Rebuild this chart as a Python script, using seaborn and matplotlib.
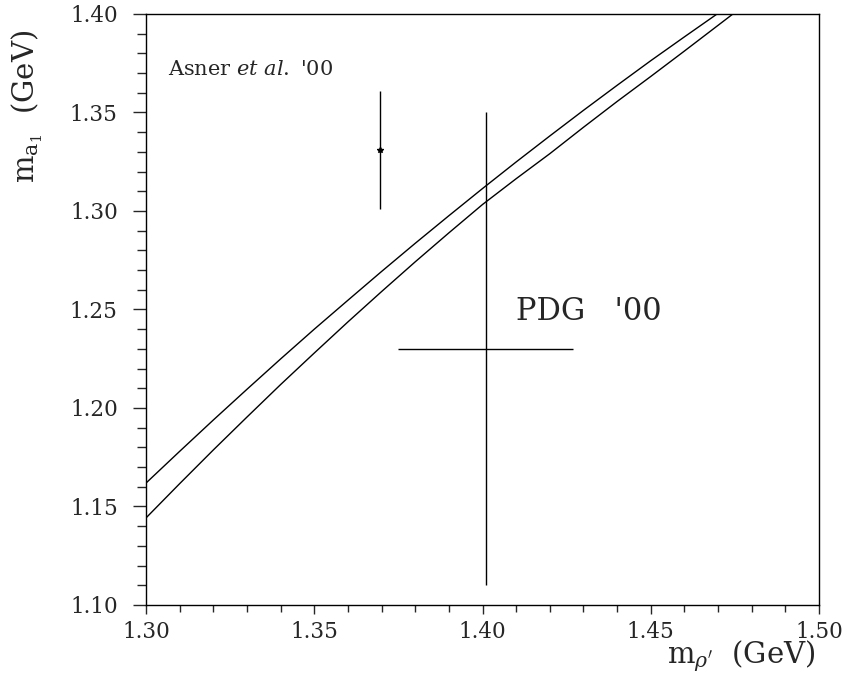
import numpy as np
import pandas as pd
import seaborn as sns
import matplotlib.pyplot as plt
from matplotlib.ticker import MultipleLocator

# band edges
upper_x = [1.30, 1.31, 1.32, 1.33, 1.34, 1.35, 1.36, 1.37, 1.38, 1.39,
           1.40, 1.41, 1.42, 1.43, 1.44, 1.45, 1.46, 1.4697]
upper_y = [1.1619, 1.1780, 1.1939, 1.2095, 1.2249, 1.2400, 1.2547, 1.2693, 1.2836, 1.2976,
           1.3114, 1.3249, 1.3381, 1.3511, 1.3638, 1.3763, 1.3884, 1.4000]
lower_x = [1.30, 1.31, 1.32, 1.33, 1.34, 1.35, 1.36, 1.37, 1.38, 1.39,
           1.40, 1.41, 1.42, 1.43, 1.44, 1.45, 1.46, 1.4744]
lower_y = [1.1442, 1.1616, 1.1787, 1.1954, 1.2119, 1.2279, 1.2437, 1.2591, 1.2742, 1.2889,
           1.3033, 1.3164, 1.3291, 1.3425, 1.3556, 1.3683, 1.3812, 1.4000]

# measurements
asner_x, asner_y, asner_yerr = 1.3695, 1.331, 0.030
pdg_x, pdg_y, pdg_xerr, pdg_yerr = 1.401, 1.230, 0.026, 0.120

sns.set_style('ticks')
plt.rcParams['font.family'] = ['DejaVu Serif', 'DejaVu Sans']
plt.rcParams['mathtext.fontset'] = 'dejavuserif'

fig = plt.figure(figsize=(8.47, 6.79), dpi=100)
ax = fig.add_axes([0.1724, 0.1090, 0.7946, 0.8704])

band = pd.concat([
    pd.DataFrame({'x': upper_x, 'y': upper_y, 'edge': 'upper'}),
    pd.DataFrame({'x': lower_x, 'y': lower_y, 'edge': 'lower'}),
])
sns.lineplot(data=band, x='x', y='y', units='edge', estimator=None, sort=False,
             color='black', lw=1.0, ax=ax, legend=False)

ax.errorbar(asner_x, asner_y, yerr=asner_yerr, fmt='*', color='black',
            ms=4, elinewidth=1.0, capsize=0)
ax.errorbar(pdg_x, pdg_y, xerr=pdg_xerr, yerr=pdg_yerr, fmt='none',
            ecolor='black', elinewidth=1.0, capsize=0)

ax.text(1.3065, 1.3716, "Asner $et$ $al.$ '00", fontsize=15, va='center', ha='left')
ax.text(1.410, 1.2492, "PDG   '00", fontsize=22, va='center', ha='left')

ax.set_xlim(1.30, 1.50)
ax.set_ylim(1.10, 1.40)
ax.xaxis.set_major_locator(MultipleLocator(0.05))
ax.xaxis.set_minor_locator(MultipleLocator(0.01))
ax.yaxis.set_major_locator(MultipleLocator(0.05))
ax.yaxis.set_minor_locator(MultipleLocator(0.01))
ax.xaxis.set_major_formatter(plt.FormatStrFormatter('%.2f'))
ax.yaxis.set_major_formatter(plt.FormatStrFormatter('%.2f'))
ax.tick_params(axis='x', which='major', direction='out', length=6.5, width=1,
               labelsize=15.5, top=False, pad=5)
ax.tick_params(axis='x', which='minor', direction='out', length=5, width=1, top=False)
ax.tick_params(axis='y', which='major', direction='out', length=9.4, width=1,
               labelsize=15.5, right=False, pad=11)
ax.tick_params(axis='y', which='minor', direction='out', length=6.5, width=1, right=False)
for s in ax.spines.values():
    s.set_visible(True)
    s.set_color('black')
    s.set_linewidth(1.0)

ax.set_xlabel(r"$\mathrm{m}_{\rho'}$  (GeV)", fontsize=21, loc='right')
ax.set_ylabel(r"$\mathrm{m}_{\mathrm{a}_1}$  (GeV)", fontsize=21, loc='top')
ax.xaxis.set_label_coords(0.994, -0.056)
ax.yaxis.set_label_coords(-0.150, 0.973)

fig.savefig('out.png', dpi=100)
